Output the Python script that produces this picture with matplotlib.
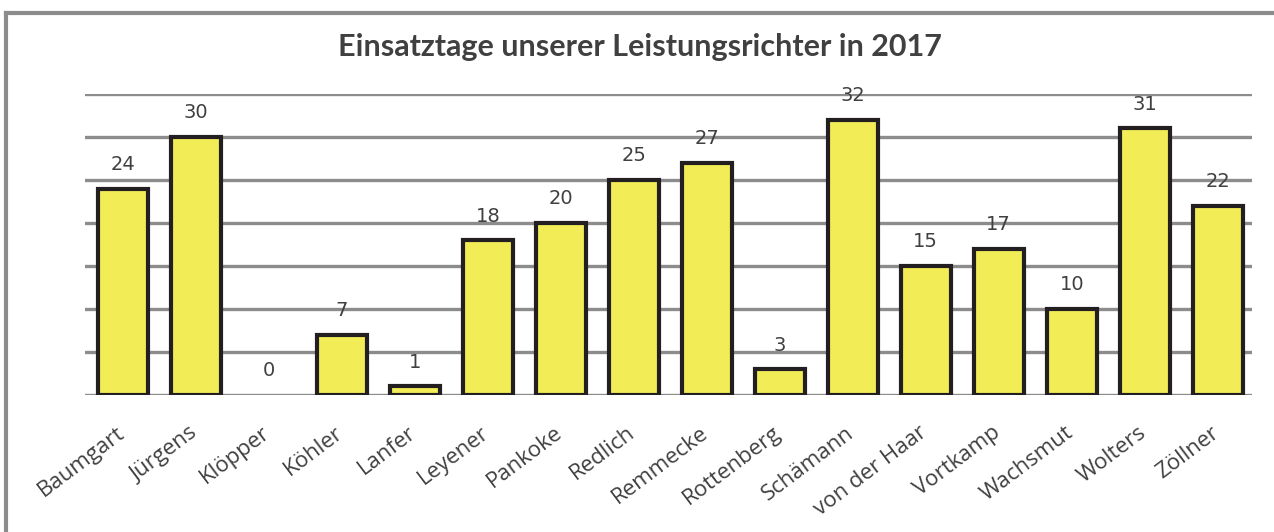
import matplotlib.pyplot as plt
from matplotlib.lines import Line2D
from matplotlib.transforms import ScaledTranslation

names = ["Baumgart", "Jürgens", "Klöpper", "Köhler", "Lanfer", "Leyener", "Pankoke",
         "Redlich", "Remmecke", "Rottenberg", "Schämann", "von der Haar", "Vortkamp",
         "Wachsmut", "Wolters", "Zöllner"]
days = [24, 30, 0, 7, 1, 18, 20, 25, 27, 3, 32, 15, 17, 10, 31, 22]

W, H = 1274, 532
fig = plt.figure(figsize=(W / 100, H / 100), dpi=100)
ax = fig.add_axes([85 / W, 1 - 395 / H, (1252 - 85) / W, (395 - 94) / H])

x = list(range(len(names)))
lws = [3 if d > 0 else 0 for d in days]
ax.bar(x, days, width=0.69, color="#f2ec56", edgecolor="#231f20", linewidth=lws, zorder=3)
for xi, d in zip(x, days):
    ax.text(xi, d + 1.7, str(d), ha="center", va="bottom", fontsize=14, color="#404040",
            family="DejaVu Sans")

ax.set_xlim(-0.52, 15.47)
ax.set_ylim(0, 35)
ax.set_yticks(range(0, 36, 5))
ax.yaxis.grid(True, color="#8c8c8c", linewidth=2.4)
ax.set_axisbelow(True)
ax.tick_params(left=False, bottom=False, labelleft=False)
for s in ax.spines.values():
    s.set_visible(False)
ax.set_xticks(x)
ax.set_xticklabels(names, rotation=37, ha="right", va="center", rotation_mode="anchor",
                   fontsize=16, color="#404040", family="Open Sans")
shift = ScaledTranslation(-1 / 100, -26 / 100, fig.dpi_scale_trans)
for lab in ax.get_xticklabels():
    lab.set_transform(lab.get_transform() + shift)

fig.text(0.502, 1 - 47 / H, "Einsatztage unserer Leistungsrichter in 2017", ha="center",
         va="center", fontsize=22, fontweight="bold", color="#404040", family="Lato")

# grey frame (left and top edges)
fig.add_artist(Line2D([6 / W, 6 / W], [0, 1 - 13 / H], color="#8c8c8c", lw=3))
fig.add_artist(Line2D([6 / W, 1], [1 - 13 / H, 1 - 13 / H], color="#8c8c8c", lw=3))

fig.savefig("out.png", dpi=100)
